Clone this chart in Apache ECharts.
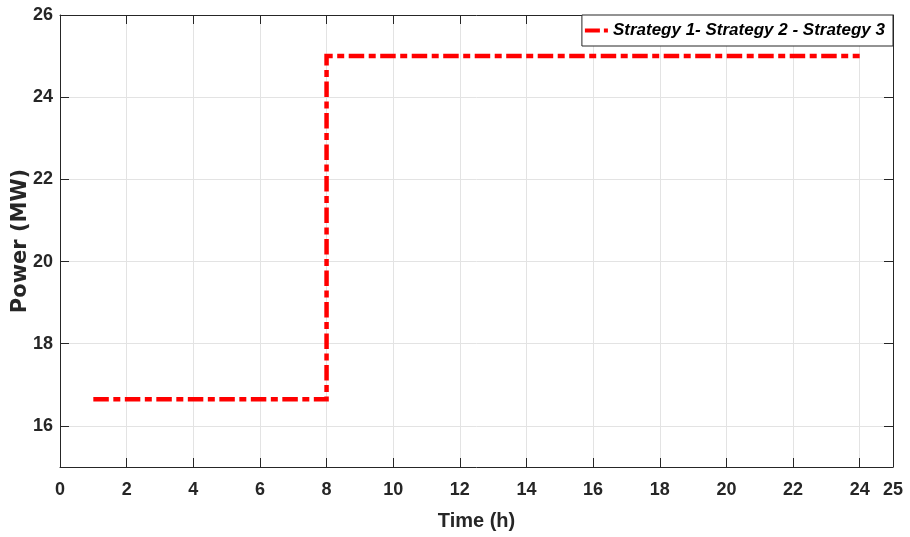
<!DOCTYPE html>
<html>
<head>
<meta charset="utf-8">
<script src="https://cdn.jsdelivr.net/npm/echarts@6/dist/echarts.min.js"></script>
<style>html,body{margin:0;padding:0;background:#fff;}#c{width:910px;height:537px;}</style>
</head>
<body>
<div id="c"></div>
<script>
const hours = [1,2,3,4,5,6,7,8,9,10,11,12,13,14,15,16,17,18,19,20,21,22,23,24];
const power = [16.65,16.65,16.65,16.65,16.65,16.65,16.65,25,25,25,25,25,25,25,25,25,25,25,25,25,25,25,25,25];
const yTicks = [16,18,20,22,24,26];
const seriesName = 'Strategy 1- Strategy 2 - Strategy 3';
const xName = 'Time (h)';
const yName = 'Power (MW)';

const axisColor = '#262626';
const font = 'Liberation Sans, Arial, Helvetica, sans-serif';
const chart = echarts.init(document.getElementById('c'), null, {renderer: 'canvas'});
const common = {
  axisLine: {show: true, onZero: false, lineStyle: {color: axisColor, width: 1}},
  axisTick: {show: true, inside: true, length: 9, lineStyle: {color: axisColor, width: 1}},
};
chart.setOption({
  animation: false,
  backgroundColor: '#fff',
  grid: {left: 60, right: 17, top: 15, bottom: 70, containLabel: false, outerBoundsMode: 'none'},
  legend: {
    show: true, right: 17, top: 15, orient: 'horizontal',
    backgroundColor: '#fff', borderColor: axisColor, borderWidth: 1, borderRadius: 0,
    padding: [6, 8, 6, 3],
    itemWidth: 23, itemHeight: 4, itemGap: 4, symbolKeepAspect: false,
    textStyle: {fontFamily: font, fontSize: 17, fontWeight: 'bold', fontStyle: 'italic', color: '#000', lineHeight: 19},
    data: [{name: seriesName, icon: 'path://M0,0H15V4H0Z M19,0H23V4H19Z', itemStyle: {color: '#ff0000'}}]
  },
  xAxis: [
    Object.assign({}, common, {
      type: 'value', min: 0, max: 25, interval: 2, position: 'bottom',
      name: xName, nameLocation: 'middle', nameGap: 44,
      nameTextStyle: {fontFamily: font, fontSize: 20, fontWeight: 'bold', color: axisColor},
      axisLabel: {show: true, margin: 14, fontFamily: font, fontSize: 18, fontWeight: 'bold', color: axisColor, showMaxLabel: true, showMinLabel: true},
      splitLine: {show: true, lineStyle: {color: '#e3e3e3', width: 1}}
    }),
    Object.assign({}, common, {
      type: 'value', min: 0, max: 25, interval: 2, position: 'top',
      axisLabel: {show: false}, splitLine: {show: false}
    })
  ],
  yAxis: [
    Object.assign({}, common, {
      type: 'value', min: 15, max: 26, position: 'left',
      name: yName, nameLocation: 'middle', nameGap: 29, nameRotate: 90, nameMoveOverlap: false,
      nameTextStyle: {fontFamily: 'DejaVu Sans, sans-serif', fontSize: 21, fontWeight: 'bold', color: axisColor},
      axisTick: {show: true, inside: true, length: 9, customValues: yTicks, lineStyle: {color: axisColor, width: 1}},
      axisLabel: {show: true, margin: 7, customValues: yTicks, fontFamily: font, fontSize: 18, fontWeight: 'bold', color: axisColor},
      splitLine: {show: true, lineStyle: {color: '#e3e3e3', width: 1}}
    }),
    Object.assign({}, common, {
      type: 'value', min: 15, max: 26, position: 'right',
      axisTick: {show: true, inside: true, length: 9, customValues: yTicks, lineStyle: {color: axisColor, width: 1}},
      axisLabel: {show: false}, splitLine: {show: false}
    })
  ],
  series: [{
    name: seriesName,
    type: 'line',
    step: 'end',
    xAxisIndex: 0, yAxisIndex: 0,
    symbol: 'none',
    data: hours.map((h, i) => [h, power[i]]),
    lineStyle: {color: '#ff0000', width: 4.5, type: [15.5, 4.5, 7, 4.5], cap: 'butt', join: 'miter'},
    itemStyle: {color: '#ff0000'}
  }]
});
</script>
</body>
</html>
